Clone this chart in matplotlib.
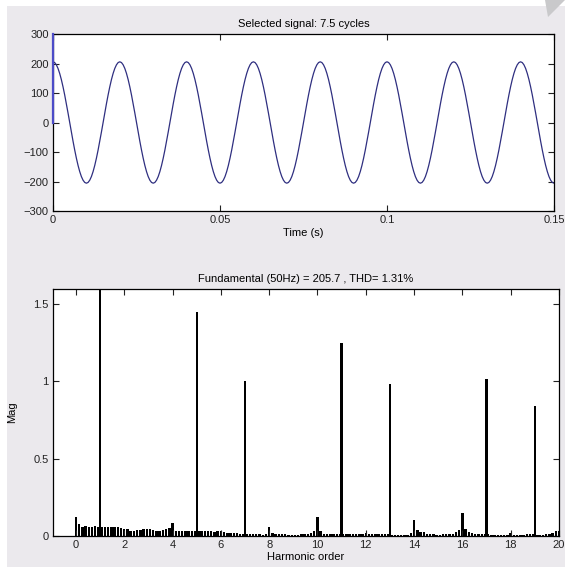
import numpy as np
import matplotlib.pyplot as plt
from matplotlib.patches import Rectangle, Polygon

plt.rcParams['font.family'] = ['Liberation Sans', 'DejaVu Sans']
plt.rcParams['font.size'] = 8

# one cycle of the 50 Hz signal, 0.5 ms steps (amplitude 205.7)
one_cycle = [205.7, 203.2, 195.6, 183.3, 166.4, 145.5, 120.9, 93.4, 63.6, 32.2,
             0.0, -32.2, -63.6, -93.4, -120.9, -145.5, -166.4, -183.3, -195.6, -203.2,
             -205.7, -203.2, -195.6, -183.3, -166.4, -145.5, -120.9, -93.4, -63.6, -32.2,
             0.0, 32.2, 63.6, 93.4, 120.9, 145.5, 166.4, 183.3, 195.6, 203.2]
dt = 0.0005
n_cycles = 7.5
sig = np.tile(one_cycle, 8)[:int(n_cycles * len(one_cycle)) + 1]
t = np.arange(len(sig)) * dt

# spectrum: small bins every 1/7.5 harmonic order
bin_step = 1 / 7.5
small_mag = [0.12, 0.075, 0.06, 0.065, 0.06, 0.06, 0.065, 0.06, 0.06, 0.055,
             0.06, 0.06, 0.06, 0.055, 0.05, 0.045, 0.045, 0.035, 0.035, 0.04,
             0.04, 0.045, 0.045, 0.045, 0.04, 0.035, 0.035, 0.04, 0.045, 0.05,
             0.085, 0.035, 0.035, 0.035, 0.035, 0.035, 0.035, 0.035, 0.035, 0.03,
             0.03, 0.03, 0.03, 0.025, 0.03, 0.03, 0.025, 0.02, 0.02, 0.02,
             0.02, 0.015, 0.015, 0.015, 0.015, 0.012, 0.01, 0.01, 0.008, 0.01,
             0.06, 0.02, 0.015, 0.012, 0.01, 0.01, 0.008, 0.008, 0.008, 0.008,
             0.01, 0.012, 0.015, 0.02, 0.03, 0.12, 0.035, 0.015, 0.01, 0.01,
             0.01, 0.01, 0.01, 0.012, 0.01, 0.015, 0.012, 0.01, 0.01, 0.01,
             0.02, 0.012, 0.01, 0.01, 0.01, 0.01, 0.01, 0.01, 0.005, 0.005,
             0.005, 0.005, 0.005, 0.008, 0.02, 0.105, 0.04, 0.025, 0.025, 0.015,
             0.012, 0.01, 0.008, 0.008, 0.01, 0.01, 0.012, 0.015, 0.025, 0.04,
             0.15, 0.045, 0.025, 0.02, 0.015, 0.012, 0.01, 0.01, 0.01, 0.008,
             0.008, 0.006, 0.006, 0.006, 0.006, 0.02, 0.006, 0.005, 0.005, 0.008,
             0.01, 0.012, 0.012, 0.006, 0.006, 0.008, 0.01, 0.015, 0.02, 0.03,
             0.03]
small_order = np.arange(len(small_mag)) * bin_step

harm_order = [1, 5, 7, 11, 13, 17, 19]
harm_mag = [100, 1.445, 1.0, 1.245, 0.98, 1.01, 0.84]

W, H = 571, 567
fig = plt.figure(figsize=(W / 100, H / 100), dpi=100, facecolor='white')
# grey window background
fig.patches.append(Rectangle((7 / W, 0), 558 / W, (H - 6) / H, transform=fig.transFigure,
                             facecolor='#ebe9ed', edgecolor='none', zorder=-10))
fig.patches.append(Polygon([(545 / W, 1), (565 / W, 1), (548 / W, 1 - 17 / H)],
                           closed=True, transform=fig.transFigure,
                           facecolor='#c9c9cb', edgecolor='none', zorder=-9))

def style(ax):
    ax.set_facecolor('white')
    ax.tick_params(direction='in', length=4, top=True, right=True, labelsize=8,
                   colors='#222222', pad=3)
    for s in ax.spines.values():
        s.set_linewidth(0.9)

ax1 = fig.add_axes([53 / W, 1 - 211 / H, 501 / W, 177 / H])
style(ax1)
ax1.plot([0, 0], [0, 300], color='#4c4cc8', lw=1.6, zorder=4, clip_on=False)
ax1.plot(t, sig, color='#2f2f80', lw=0.9)
ax1.set_xlim(0, 0.15)
ax1.set_ylim(-300, 300)
ax1.set_xticks([0, 0.05, 0.1, 0.15])
ax1.set_xticklabels(['0', '0.05', '0.1', '0.15'])
ax1.set_yticks(range(-300, 301, 100))
ax1.set_title('Selected signal: 7.5 cycles', fontsize=8, pad=5)
ax1.set_xlabel('Time (s)', fontsize=8, labelpad=2)

ax2 = fig.add_axes([53 / W, 1 - 536 / H, 506 / W, 247 / H])
style(ax2)
ax2.bar(small_order, small_mag, width=0.75 * bin_step, color='black')
ax2.bar(harm_order, harm_mag, width=0.75 * bin_step, color='black')
ax2.set_xlim(-0.95, 20)
ax2.set_ylim(0, 1.594)
ax2.set_xticks(range(0, 21, 2))
ax2.set_yticks([0, 0.5, 1, 1.5])
ax2.set_yticklabels(['0', '0.5', '1', '1.5'])
ax2.set_title('Fundamental (50Hz) = 205.7 , THD= 1.31%', fontsize=8, pad=5)
ax2.set_xlabel('Harmonic order', fontsize=8, labelpad=1)
ax2.set_ylabel('Mag', fontsize=8, labelpad=12)

fig.savefig('out.png', dpi=100, facecolor=fig.get_facecolor())
